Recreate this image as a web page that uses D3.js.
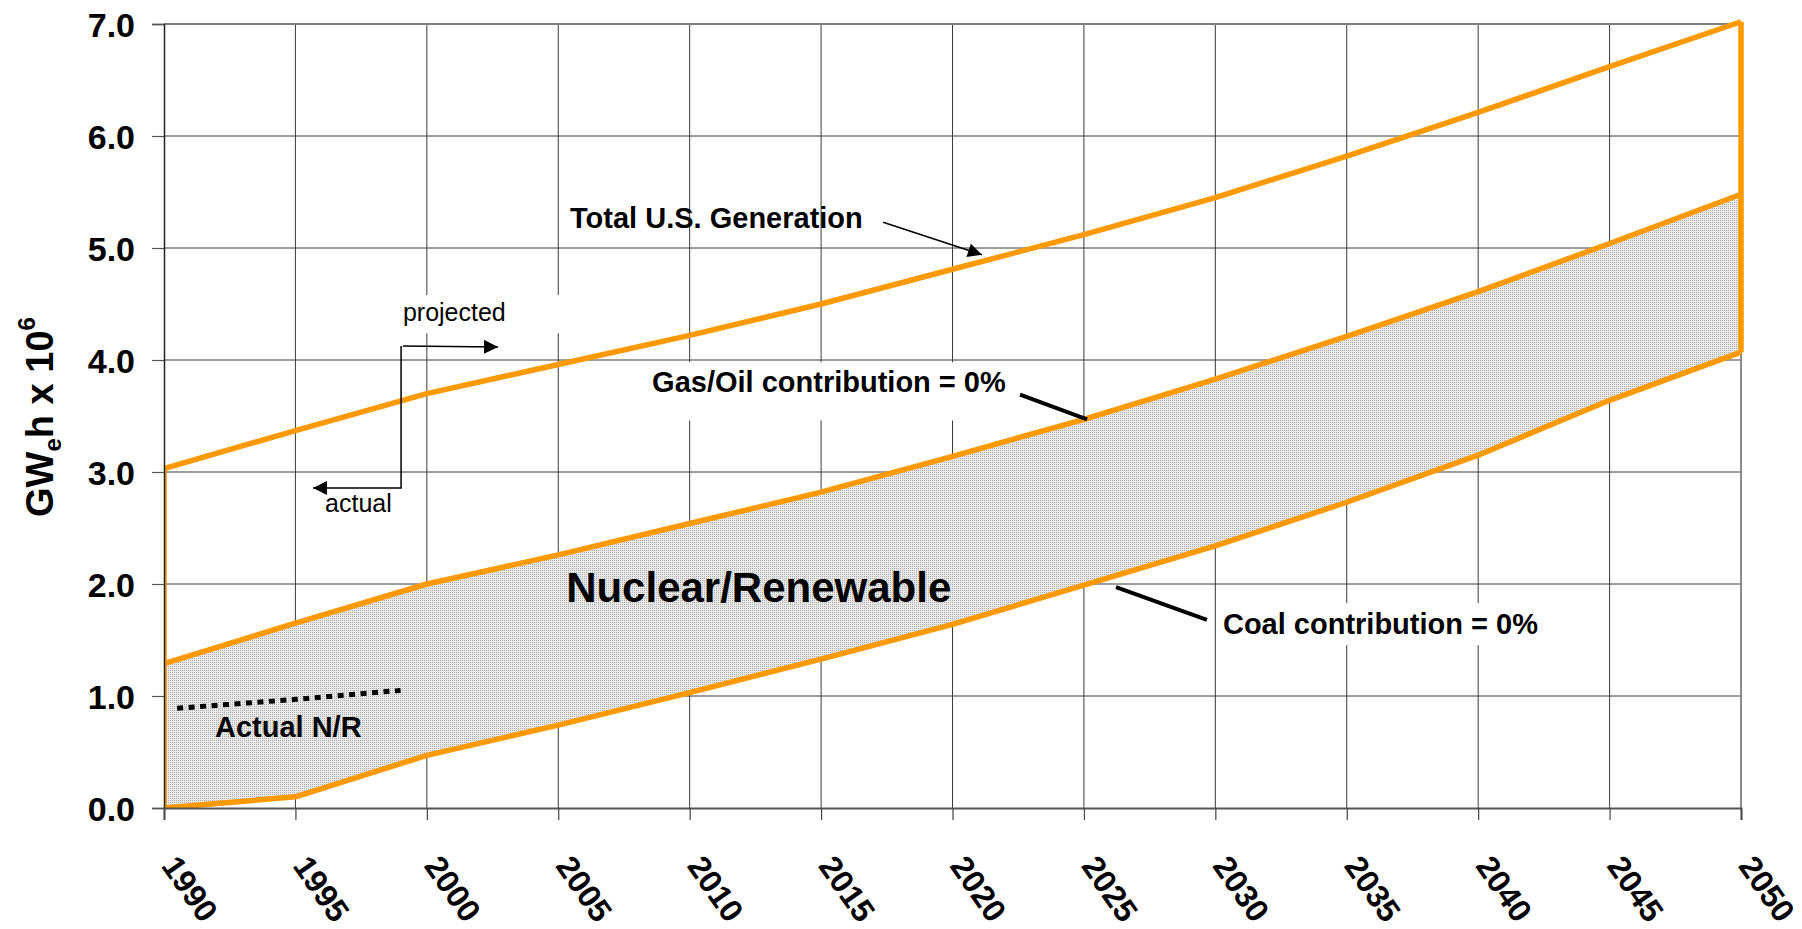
<!DOCTYPE html>
<html>
<head>
<meta charset="utf-8">
<script src="https://cdn.jsdelivr.net/npm/d3@7"></script>
<style>
  body { margin: 0; background: #ffffff; }
  text { font-family: Arial, "Liberation Sans", sans-serif; fill: #000; }
</style>
</head>
<body>
<div id="chart"></div>
<script>
// values, GWe-h x 10^6
var years  = [1990, 1995, 2000, 2005, 2010, 2015, 2020, 2025, 2030, 2035, 2040, 2045, 2050];
var total  = [3.03, 3.37, 3.70, 3.96, 4.22, 4.50, 4.81, 5.12, 5.45, 5.82, 6.21, 6.62, 7.02];
var gasOil = [1.29, 1.65, 2.00, 2.26, 2.54, 2.82, 3.14, 3.47, 3.83, 4.21, 4.61, 5.04, 5.48];
var coal   = [0.00, 0.10, 0.47, 0.74, 1.03, 1.33, 1.64, 1.99, 2.34, 2.73, 3.15, 3.64, 4.07];
var actualYears = [1990.5, 1995, 1999];
var actualNR    = [0.89, 0.97, 1.05];
var yTicks = [0, 1, 2, 3, 4, 5, 6, 7];
var xTicks = [1990, 1995, 2000, 2005, 2010, 2015, 2020, 2025, 2030, 2035, 2040, 2045, 2050];

chart();

function chart() {
  var W = 1802, H = 929;
  var margin = {top: 24, right: 61, bottom: 121, left: 164},
      width = W - margin.left - margin.right,
      height = H - margin.top - margin.bottom;
  var orange = "#ff9900";

  var svg = d3.select("#chart").append("svg")
    .attr("width", W)
    .attr("height", H);

  var defs = svg.append("defs");

  var pat = defs.append("pattern")
    .attr("id", "dots")
    .attr("width", 2)
    .attr("height", 2)
    .attr("patternUnits", "userSpaceOnUse");
  pat.append("rect").attr("width", 2).attr("height", 2).attr("fill", "#e8e8e8");
  pat.append("rect").attr("width", 1).attr("height", 1).attr("fill", "#b2b2b2");

  defs.append("marker")
    .attr("id", "head")
    .attr("viewBox", "0 0 10 10")
    .attr("refX", 10)
    .attr("refY", 5)
    .attr("markerUnits", "userSpaceOnUse")
    .attr("markerWidth", 16)
    .attr("markerHeight", 14)
    .attr("orient", "auto")
    .append("path")
    .attr("d", "M0,0 L10,5 L0,10 z")
    .attr("fill", "#000");

  defs.append("clipPath")
    .attr("id", "plotclip")
    .append("rect")
    .attr("x", 0)
    .attr("y", -10)
    .attr("width", width + 10)
    .attr("height", height + 10);

  var g = svg.append("g")
    .attr("transform", "translate(" + margin.left + "," + margin.top + ")");

  var x = d3.scaleLinear().domain([1990, 2050]).range([0, width]);
  var y = d3.scaleLinear().domain([0, 7]).range([height, 0]);

  // grid
  g.append("g")
    .selectAll("line")
    .data(xTicks.slice(1, -1)).enter()
    .append("line")
    .attr("x1", function(d) { return x(d); })
    .attr("x2", function(d) { return x(d); })
    .attr("y1", 0)
    .attr("y2", height)
    .style("stroke", "#3a3a3a")
    .style("stroke-width", 1);

  g.append("g")
    .selectAll("line")
    .data(yTicks.slice(1, -1)).enter()
    .append("line")
    .attr("x1", 0)
    .attr("x2", width)
    .attr("y1", function(d) { return y(d); })
    .attr("y2", function(d) { return y(d); })
    .style("stroke", "#3a3a3a")
    .style("stroke-width", 1);

  // frame
  g.append("line")
    .attr("x1", 0).attr("x2", width).attr("y1", 0).attr("y2", 0)
    .style("stroke", "#7f7f7f").style("stroke-width", 2);
  g.append("line")
    .attr("x1", width).attr("x2", width).attr("y1", 0).attr("y2", height)
    .style("stroke", "#8a8a8a").style("stroke-width", 2);

  // white label backgrounds (they hide the grid)
  var boxes = [
    {x0: 1998.9, x1: 2005.1, y0: 4.24, y1: 4.58},
    {x0: 2008.3, x1: 2022.4, y0: 3.46, y1: 3.98},
    {x0: 2030.1, x1: 2042.7, y0: 1.455, y1: 1.83}
  ];
  g.selectAll("rect.box")
    .data(boxes).enter()
    .append("rect")
    .attr("class", "box")
    .attr("x", function(d) { return x(d.x0); })
    .attr("y", function(d) { return y(d.y1); })
    .attr("width", function(d) { return x(d.x1) - x(d.x0); })
    .attr("height", function(d) { return y(d.y0) - y(d.y1); })
    .style("fill", "#ffffff");

  var rows = years.map(function(yr, i) {
    return {year: yr, total: total[i], gasOil: gasOil[i], coal: coal[i]};
  });

  var plot = g.append("g").attr("clip-path", "url(#plotclip)");

  // nuclear / renewable band
  plot.append("path")
    .datum(rows)
    .attr("d", d3.area()
      .x(function(d) { return x(d.year); })
      .y0(function(d) { return y(d.coal); })
      .y1(function(d) { return y(d.gasOil); }))
    .style("fill", "url(#dots)");

  var series = ["total", "gasOil", "coal"];
  series.forEach(function(key) {
    plot.append("path")
      .datum(rows)
      .attr("d", d3.line()
        .x(function(d) { return x(d.year); })
        .y(function(d) { return y(d[key]); }))
      .style("fill", "none")
      .style("stroke", orange)
      .style("stroke-width", 5.5)
      .style("stroke-linejoin", "round");
  });

  var first = rows[0], last = rows[rows.length - 1];
  plot.append("line")
    .attr("x1", x(first.year)).attr("x2", x(first.year))
    .attr("y1", y(0)).attr("y2", y(first.total))
    .style("stroke", orange)
    .style("stroke-width", 5.5);
  plot.append("line")
    .attr("x1", x(last.year)).attr("x2", x(last.year))
    .attr("y1", y(last.coal)).attr("y2", y(last.total))
    .style("stroke", orange)
    .style("stroke-width", 5.5);

  // actual N/R
  g.append("path")
    .datum(actualYears.map(function(yr, i) { return {year: yr, v: actualNR[i]}; }))
    .attr("d", d3.line()
      .x(function(d) { return x(d.year); })
      .y(function(d) { return y(d.v); }))
    .style("fill", "none")
    .style("stroke", "#000")
    .style("stroke-width", 5)
    .style("stroke-dasharray", "6,5.5");

  // axes
  var yAxis = g.append("g")
    .call(d3.axisLeft(y)
      .tickValues(yTicks)
      .tickSize(12)
      .tickPadding(17)
      .tickFormat(d3.format(".1f")));
  yAxis.select(".domain").style("stroke", "#222").style("stroke-width", 1.5);
  yAxis.selectAll(".tick line").style("stroke", "#555").style("stroke-width", 1.2);
  yAxis.selectAll(".tick text")
    .style("font-size", "34px")
    .style("font-weight", "bold")
    .style("font-family", "Arial, 'Liberation Sans', sans-serif")
    .attr("dy", "0.36em");

  var xAxis = g.append("g")
    .attr("transform", "translate(0," + height + ")")
    .call(d3.axisBottom(x)
      .tickValues(xTicks)
      .tickSize(12)
      .tickFormat(function(d) { return d; }));
  xAxis.select(".domain").style("stroke", "#555").style("stroke-width", 2);
  xAxis.selectAll(".tick line").style("stroke", "#444").style("stroke-width", 1.2);
  xAxis.selectAll(".tick text")
    .attr("x", -4)
    .attr("y", 58)
    .attr("dy", 0)
    .attr("transform", "rotate(55,-4,58)")
    .style("text-anchor", "start")
    .style("font-size", "32px")
    .style("font-weight", "bold")
    .style("font-family", "Arial, 'Liberation Sans', sans-serif");

  // y title
  var yTitle = svg.append("text")
    .attr("transform", "translate(53,517) rotate(-90)")
    .style("font-size", "38px")
    .style("font-weight", "bold");
  yTitle.append("tspan").text("GW");
  yTitle.append("tspan").attr("dy", 8).style("font-size", "24px").text("e");
  yTitle.append("tspan").attr("dy", -8).text("h x 10");
  yTitle.append("tspan").attr("dy", -18).style("font-size", "24px").text("6");

  // annotations
  var labels = [
    {text: "Total U.S. Generation", year: 2005.45, v: 5.18, size: 29, weight: "bold"},
    {text: "projected", year: 1999.09, v: 4.35, size: 25, weight: "normal"},
    {text: "actual", year: 1996.13, v: 2.64, size: 25, weight: "normal"},
    {text: "Gas/Oil contribution = 0%", year: 2008.57, v: 3.714, size: 29, weight: "bold"},
    {text: "Nuclear/Renewable", year: 2005.3, v: 1.84, size: 42, weight: "bold"},
    {text: "Actual N/R", year: 1991.94, v: 0.634, size: 29, weight: "bold"},
    {text: "Coal contribution = 0%", year: 2030.29, v: 1.554, size: 29, weight: "bold"}
  ];
  g.selectAll("text.lab")
    .data(labels).enter()
    .append("text")
    .attr("class", "lab")
    .attr("x", function(d) { return x(d.year); })
    .attr("y", function(d) { return y(d.v); })
    .style("font-size", function(d) { return d.size + "px"; })
    .style("font-weight", function(d) { return d.weight; })
    .text(function(d) { return d.text; });

  // leader lines and arrows
  var leaders = [
    {pts: [[2017.36, 5.23], [2021.12, 4.94]], w: 1.5, head: true},
    {pts: [[1999.09, 4.125], [2002.71, 4.116]], w: 1.5, head: true},
    {pts: [[1999.02, 4.125], [1999.02, 2.857], [1995.67, 2.857]], w: 1.5, head: true},
    {pts: [[2022.57, 3.69], [2025.12, 3.47]], w: 4, head: false},
    {pts: [[2029.68, 1.679], [2026.22, 1.973]], w: 4, head: false}
  ];
  g.selectAll("path.leader")
    .data(leaders).enter()
    .append("path")
    .attr("class", "leader")
    .attr("d", function(d) {
      return d3.line()(d.pts.map(function(p) { return [x(p[0]), y(p[1])]; }));
    })
    .style("fill", "none")
    .style("stroke", "#000")
    .style("stroke-width", function(d) { return d.w; })
    .attr("marker-end", function(d) { return d.head ? "url(#head)" : null; });
}
</script>
</body>
</html>
